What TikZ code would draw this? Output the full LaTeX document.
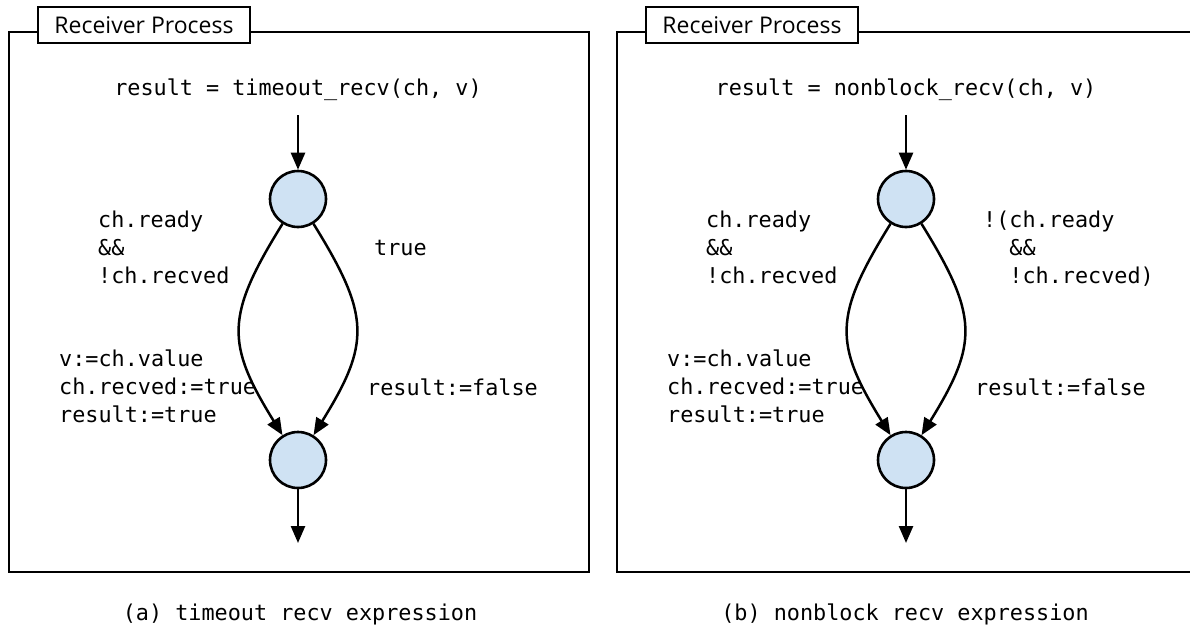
\documentclass[tikz,border=0pt]{standalone}
\usepackage{fontspec}
\setmainfont{Open Sans}
\newfontfamily\codefont{DejaVu Sans Mono}
\usetikzlibrary{arrows.meta}
\definecolor{statefill}{HTML}{CFE2F3}
\tikzset{
  frameline/.style={line width=2.4pt},
  titlebox/.style={draw, line width=2.4pt, fill=white, minimum width=212pt, minimum height=36pt,
    inner sep=0pt, font=\fontsize{23}{27}\selectfont},
  state/.style={circle, draw, line width=2.6pt, fill=statefill, minimum size=56pt, inner sep=0pt},
  code/.style={inner sep=0pt, align=left, font=\codefont\fontsize{21.8}{28}\selectfont},
  flow/.style={line width=2.5pt, -{Triangle[length=17pt,width=14pt]}},
}
\begin{document}
\begin{tikzpicture}[x=1pt,y=-1pt]
\useasboundingbox (0,0) rectangle (1190,634);

% ---- (a) timeout recv ----
\draw[frameline] (9,32) rectangle (589,572);
\node[titlebox] (ta) at (144,25) {Receiver Process};
\node[code, anchor=base] (ea) at (298,95) {result = timeout\_recv(ch, v)};
\coordinate (ina) at (298,115);
\node[state] (sa) at (298,199) {};
\node[state] (fa) at (298,460) {};
\coordinate (outa) at (298,543);
\draw[flow] (ina) -- (sa);
\draw[flow] (sa.-122) .. controls +(-57,92) and +(-57,-92) .. (fa.122);
\draw[flow] (sa.-58) .. controls +(57,92) and +(57,-92) .. (fa.58);
\draw[flow] (fa) -- (outa);
% multi-line labels: base anchor sits on the last line
\node[code, anchor=base west] (ga) at (98,283) {ch.ready\\\&\&\\!ch.recved};
\node[code, anchor=base west] (ha) at (374,255) {true};
\node[code, anchor=base west] (ka) at (59,422) {v:=ch.value\\ch.recved:=true\\result:=true};
\node[code, anchor=base west] (la) at (367,395) {result:=false};
\node[code, anchor=base] (ca) at (300,620) {(a) timeout recv expression};

% ---- (b) nonblock recv ----
\draw[frameline] (1192,32) -- (617,32) -- (617,572) -- (1192,572);
\node[titlebox] (tb) at (752,25) {Receiver Process};
\node[code, anchor=base] (eb) at (906,95) {result = nonblock\_recv(ch, v)};
\coordinate (inb) at (906,115);
\node[state] (sb) at (906,199) {};
\node[state] (fb) at (906,460) {};
\coordinate (outb) at (906,543);
\draw[flow] (inb) -- (sb);
\draw[flow] (sb.-122) .. controls +(-57,92) and +(-57,-92) .. (fb.122);
\draw[flow] (sb.-58) .. controls +(57,92) and +(57,-92) .. (fb.58);
\draw[flow] (fb) -- (outb);
\node[code, anchor=base west] (gb) at (706,283) {ch.ready\\\&\&\\!ch.recved};
\node[code, anchor=base west] (hb) at (983,283) {!(ch.ready\\\ \ \&\&\\\ \ !ch.recved)};
\node[code, anchor=base west] (kb) at (667,422) {v:=ch.value\\ch.recved:=true\\result:=true};
\node[code, anchor=base west] (lb) at (975,395) {result:=false};
\node[code, anchor=base] (cb) at (905,620) {(b) nonblock recv expression};
\end{tikzpicture}
\end{document}
